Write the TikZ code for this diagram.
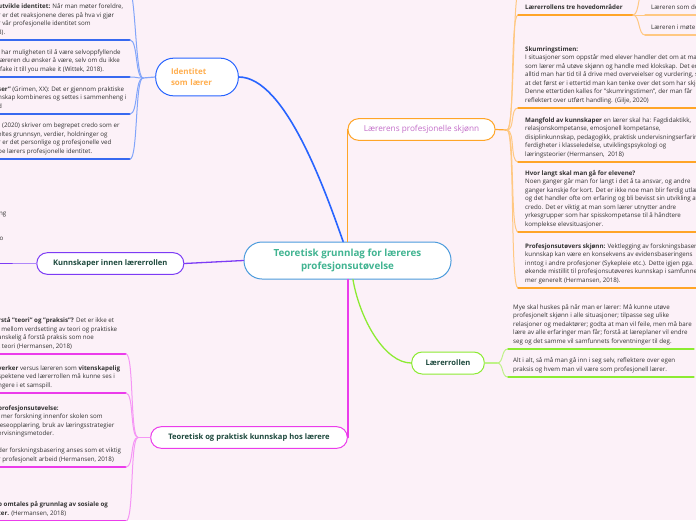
\documentclass[tikz,border=0pt]{standalone}
\usepackage{fontspec}
\setmainfont{Open Sans}

\definecolor{bgpink}{RGB}{252,241,248}
\definecolor{rootedge}{RGB}{75,155,220}
\definecolor{roottext}{RGB}{65,180,145}
\definecolor{topictext}{RGB}{28,72,60}
\definecolor{bodytext}{RGB}{50,50,50}
\definecolor{idtext}{RGB}{255,175,80}
\definecolor{lpstext}{RGB}{195,110,200}
\definecolor{cblue}{RGB}{40,100,255}
\definecolor{ublue}{RGB}{55,105,240}
\definecolor{lblue}{RGB}{130,165,250}
\definecolor{corange}{RGB}{255,165,40}
\definecolor{lorange}{RGB}{255,200,130}
\definecolor{cpurple}{RGB}{125,60,245}
\definecolor{lpurple}{RGB}{175,135,250}
\definecolor{cmagenta}{RGB}{235,60,235}
\definecolor{lmagenta}{RGB}{245,150,245}
\definecolor{cgreen}{RGB}{140,235,50}
\definecolor{lgreen}{RGB}{190,242,135}

\tikzset{
  root/.style={draw=rootedge, fill=white, line width=1pt, rounded corners=18pt,
    minimum width=207pt, minimum height=37pt, align=center, text=roottext,
    font=\fontsize{9.8}{13}\selectfont\bfseries},
  topic/.style={fill=white, line width=1pt, rounded corners=10.5pt,
    minimum height=21.6pt, text=topictext, font=\fontsize{7.6}{9}\selectfont\bfseries},
  txt/.style={anchor=south west, inner xsep=0pt, inner ysep=3pt, align=left,
    text=bodytext, font=\fontsize{6.2}{8.5}\selectfont},
  twig/.style={line width=1pt},
  uline/.style={line width=1.2pt},
}

\begin{document}
\begin{tikzpicture}[x=1pt,y=-1pt,line cap=round,line join=round]
  \useasboundingbox[fill=bgpink] (0,0) rectangle (696,520);
  \coordinate (edgeL) at (-12,0);
  \coordinate (edgeR) at (708,0);
  \coordinate (edgeG) at (694,0);

  % root and main topics
  \node[root] (root) at (347.5,260.5) {Teoretisk grunnlag for læreres\\profesjonsutøvelse};
  \node[topic, draw=cblue, text=idtext, rounded corners=18pt, minimum width=82.6pt,
    minimum height=37.7pt, text width=52pt, align=left,
    font=\fontsize{8}{11}\selectfont\bfseries] (ident) at (197,77) {Identitet\\som lærer};
  \node[topic, draw=corange, text=lpstext, font=\fontsize{8.2}{9}\selectfont,
    minimum width=147pt] (lps) at (421.5,129.5) {Lærerens profesjonelle skjønn};
  \node[topic, draw=cpurple, minimum width=147pt] (kunn) at (110.3,263.5) {Kunnskaper innen lærerrollen};
  \node[topic, draw=cmagenta, minimum width=196.6pt] (tpk) at (249,437.5) {Teoretisk og praktisk kunnskap hos lærere};
  \node[topic, draw=cgreen, minimum width=72.6pt, minimum height=22pt] (role) at (448,363) {Lærerrollen};

  \draw[cblue, line width=1.6pt] (root.103) .. controls (325,190) and (285,77) .. (ident.east);
  \draw[corange, line width=1.5pt] (root.north -| lps.west) -- (lps.west);
  \draw[cpurple, line width=1.3pt] (root.west) -- (kunn.east);
  \draw[cmagenta, line width=1.5pt] (root.south -| tpk.east) -- (tpk.east);
  \draw[cgreen, line width=1.3pt] (root.-74) .. controls (360,320) and (385,363) .. (role.west);

  % Laererens profesjonelle skjoenn
  \node[txt, inner xsep=7pt] (lth) at (518,15) {\textbf{Lærerrollens tre hovedområder}\strut};
  \node[txt, inner xsep=6pt] (subA) at (645,15) {Læreren som den\strut};
  \node[txt, inner xsep=6pt] (subB) at (645,35) {Læreren i møte med\strut};
  \node[txt, inner xsep=7pt] (skum) at (518,108) {\textbf{Skumringstimen:}\\
    I situasjoner som oppstår med elever handler det om at man\\
    som lærer må utøve skjønn og handle med klokskap. Det er ikke\\
    alltid man har tid til å drive med overveielser og vurdering, slik\\
    at det først er i ettertid man kan tenke over det som har skjedd.\\
    Denne ettertiden kalles for "skumringstimen", der man får\\
    reflektert over utført handling. (Gilje, 2020)\strut};
  \node[txt, inner xsep=7pt] (mang) at (518,162) {\textbf{Mangfold av kunnskaper} en lærer skal ha: Fagdidaktikk,\\
    relasjonskompetanse, emosjonell kompetanse,\\
    disiplinkunnskap, pedagogikk, praktisk undervisningserfaring,\\
    ferdigheter i klasseledelse, utviklingspsykologi og\\
    læringsteorier (Hermansen,\ \ 2018)\strut};
  \node[txt, inner xsep=7pt] (hvor) at (518,232) {\textbf{Hvor langt skal man gå for elevene?}\\
    Noen ganger går man for langt i det å ta ansvar, og andre\\
    ganger kanskje for kort. Det er ikke noe man blir ferdig utlært\\
    og det handler ofte om erfaring og bli bevisst sin utvikling av\\
    credo. Det er viktig at man som lærer utnytter andre\\
    yrkesgrupper som har spisskompetanse til å håndtere\\
    komplekse elevsituasjoner.\strut};
  \node[txt, inner xsep=7pt] (prof) at (518,288) {\textbf{Profesjonsutøvers skjønn:} Vektlegging av forskningsbasert\\
    kunnskap kan være en konsekvens av evidensbaseringens\\
    inntog i andre profesjoner (Sykepleie etc.). Dette igjen pga.\\
    økende mistillit til profesjonsutøveres kunnskap i samfunnet\\
    mer generelt (Hermansen, 2018).\strut};

  \coordinate (hubL) at (507,130);
  \coordinate (hubT) at (633,15);
  \draw[corange, uline] (lps.east) -- (hubL);
  \draw[lorange, twig] (hubL) .. controls +(8,0) and +(-8,0) .. (520,-14);
  \draw[lorange, twig] (hubL) .. controls +(8,0) and +(-8,0) .. (lth.south west);
  \draw[corange, uline] (lth.south west) -- (hubT);
  \foreach \b in {skum,mang,hvor,prof} {
    \draw[lorange, twig] (hubL) .. controls +(8,0) and +(-8,0) .. (\b.south west);
    \draw[corange, uline] (\b.south west) -- (\b.south west -| edgeR);
  }
  \draw[lorange, twig] (hubT) .. controls +(7,0) and +(-7,0) .. (645,-14);
  \draw[lorange, twig] (hubT) -- (subA.south west);
  \draw[lorange, twig] (hubT) .. controls +(7,0) and +(-7,0) .. (subB.south west);
  \draw[lorange, uline] (subA.south west) -- (subA.south west -| edgeR);
  \draw[lorange, uline] (subB.south west) -- (subB.south west -| edgeR);

  % Laererrollen
  \node[txt, inner xsep=5pt] (mye) at (508,349) {Mye skal huskes på når man er lærer: Må kunne utøve\\
    profesjonelt skjønn i alle situasjoner; tilpasse seg ulike\\
    relasjoner og medaktører; godta at man vil feile, men må bare\\
    lære av alle erfaringer man får; forstå at læreplaner vil endre\\
    seg og det samme vil samfunnets forventninger til deg.\strut};
  \node[txt, inner xsep=5pt] (alt) at (508,377) {Alt i alt, så må man gå inn i seg selv, reflektere over egen\\
    praksis og hvem man vil være som profesjonell lærer.\strut};
  \coordinate (hubG) at (497,363);
  \draw[lgreen, uline] (role.east) -- (hubG);
  \foreach \b in {mye,alt} {
    \draw[lgreen, twig] (hubG) .. controls +(7,0) and +(-7,0) .. (\b.south west);
    \draw[cgreen, uline] (\b.south west) -- (\b.south west -| edgeG);
  }

  % Identitet som laerer
  \node[txt] (idA) at (-2,40) {\textbf{utvikle identitet:} Når man møter foreldre,\\
    r er det reaksjonene deres på hva vi gjør\\
    r vår profesjonelle identitet som\\
    8).\strut};
  \node[txt] (idB) at (-2,77) {l har muligheten til å være selvoppfyllende\\
    læreren du ønsker å være, selv om du ikke\\
    -fake it till you make it (Wittek, 2018).\strut};
  \node[txt] (idC) at (-2,114) {\textbf{ser"} (Grimen, XX): Det er gjennom praktiske\\
    nskap kombineres og settes i sammenheng i\\
    d\strut};
  \node[txt] (idD) at (-2,159) {\hspace{4pt}(2020) skriver om begrepet credo som er\\
    eltes grunnsyn, verdier, holdninger og\\
    r er det personlige og profesjonelle ved\\
    pe lærers profesjonelle identitet.\strut};
  \coordinate (hubI) at (143,78);
  \draw[lblue, uline] (ident.west) -- (hubI);
  \draw[lblue, twig] (hubI) .. controls +(-8,0) and +(8,0) .. (128,-14);
  \foreach \b in {idA,idB,idC,idD} {
    \draw[ublue, uline] (\b.south west) -- ([xshift=132pt]\b.south west);
    \draw[lblue, twig] ([xshift=132pt]\b.south west) .. controls +(8,0) and +(-8,0) .. (hubI);
  }

  % Kunnskaper innen laererrollen
  \node[txt, anchor=base east] (kunnA) at (6.5,215.5) {ng};
  \node[txt, anchor=base east] (kunnB) at (3.5,240.5) {o};
  \coordinate (hubK) at (12,263.5);
  \draw[lpurple, uline] (kunn.west) -- (hubK);
  \draw[cpurple, line width=1.8pt] (hubK) -- (hubK -| edgeL);

  % Teoretisk og praktisk kunnskap
  \node[txt] (tpA) at (-2,354) {\textbf{rstå "teori" og "praksis"?} Det er ikke et\\
    l mellom verdsetting av teori og praktiske\\
    anskelig å forstå praksis som noe\\
    t teori (Hermansen, 2018)\strut};
  \node[txt] (tpB) at (-2,393) {\textbf{verker} versus læreren som \textbf{vitenskapelig}\\
    spektene ved lærerrollen må kunne ses i\\
    ngere i et samspill.\strut};
  \node[txt] (tpC) at (-2,467) {\textbf{profesjonsutøvelse:}\\
    \hspace{3pt}mer forskning innenfor skolen som\\
    leseopplæring, bruk av læringsstrategier\\
    ervisningsmetoder.\\[8.5pt]
    der forskningsbasering anses som et viktig\\
    r profesjonelt arbeid (Hermansen, 2018)\strut};
  \node[txt] (tpD) at (-2,521) {\textbf{p omtales på grunnlag av sosiale og}\\
    \textbf{ter.} (Hermansen, 2018)\strut};
  \coordinate (hubP) at (138,437.5);
  \draw[lmagenta, uline] (tpk.west) -- (hubP);
  \foreach \b in {tpA,tpB,tpC,tpD} {
    \draw[cmagenta, uline] (\b.south west) -- ([xshift=128pt]\b.south west);
    \draw[lmagenta, twig] ([xshift=128pt]\b.south west) .. controls +(8,0) and +(-8,0) .. (hubP);
  }
\end{tikzpicture}
\end{document}
